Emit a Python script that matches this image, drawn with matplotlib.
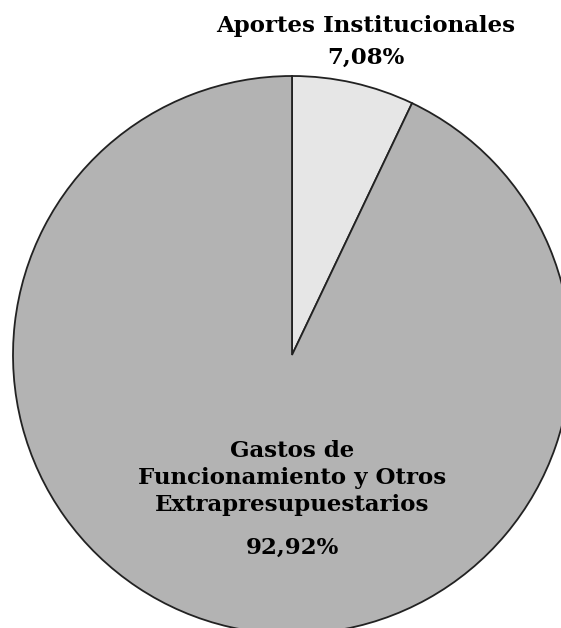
import matplotlib
matplotlib.use("Agg")
import matplotlib.pyplot as plt

labels = ["Aportes Institucionales", "Gastos de\nFuncionamiento y Otros\nExtrapresupuestarios"]
values = [7.08, 92.92]
pct_text = ["7,08%", "92,92%"]
colors = ["#e6e6e6", "#b3b3b3"]

W, H = 561, 628
cx, cy, r = 292, 355, 279

fig = plt.figure(figsize=(W / 100, H / 100), dpi=100)
ax = fig.add_axes([0, 0, 1, 1])
ax.pie(values, colors=colors, startangle=90, counterclock=False,
       wedgeprops=dict(edgecolor="#222222", linewidth=1.3))
ax.set_aspect("auto")
ax.set_xlim(-cx / r, (W - cx) / r)
ax.set_ylim((cy - H) / r, cy / r)
ax.axis("off")

font = dict(family="DejaVu Serif", weight="bold", color="black")

def px(x, y):
    return (x - cx) / r, (cy - y) / r

ax.text(*px(366, 26), labels[0], ha="center", va="center", fontsize=16.5, **font)
ax.text(*px(366, 58), pct_text[0], ha="center", va="center", fontsize=16.5, **font)
ax.text(*px(292, 478), labels[1], ha="center", va="center", fontsize=16.5,
        linespacing=1.28, **font)
ax.text(*px(292, 548), pct_text[1], ha="center", va="center", fontsize=16.5, **font)

fig.savefig("out.png", dpi=100)
